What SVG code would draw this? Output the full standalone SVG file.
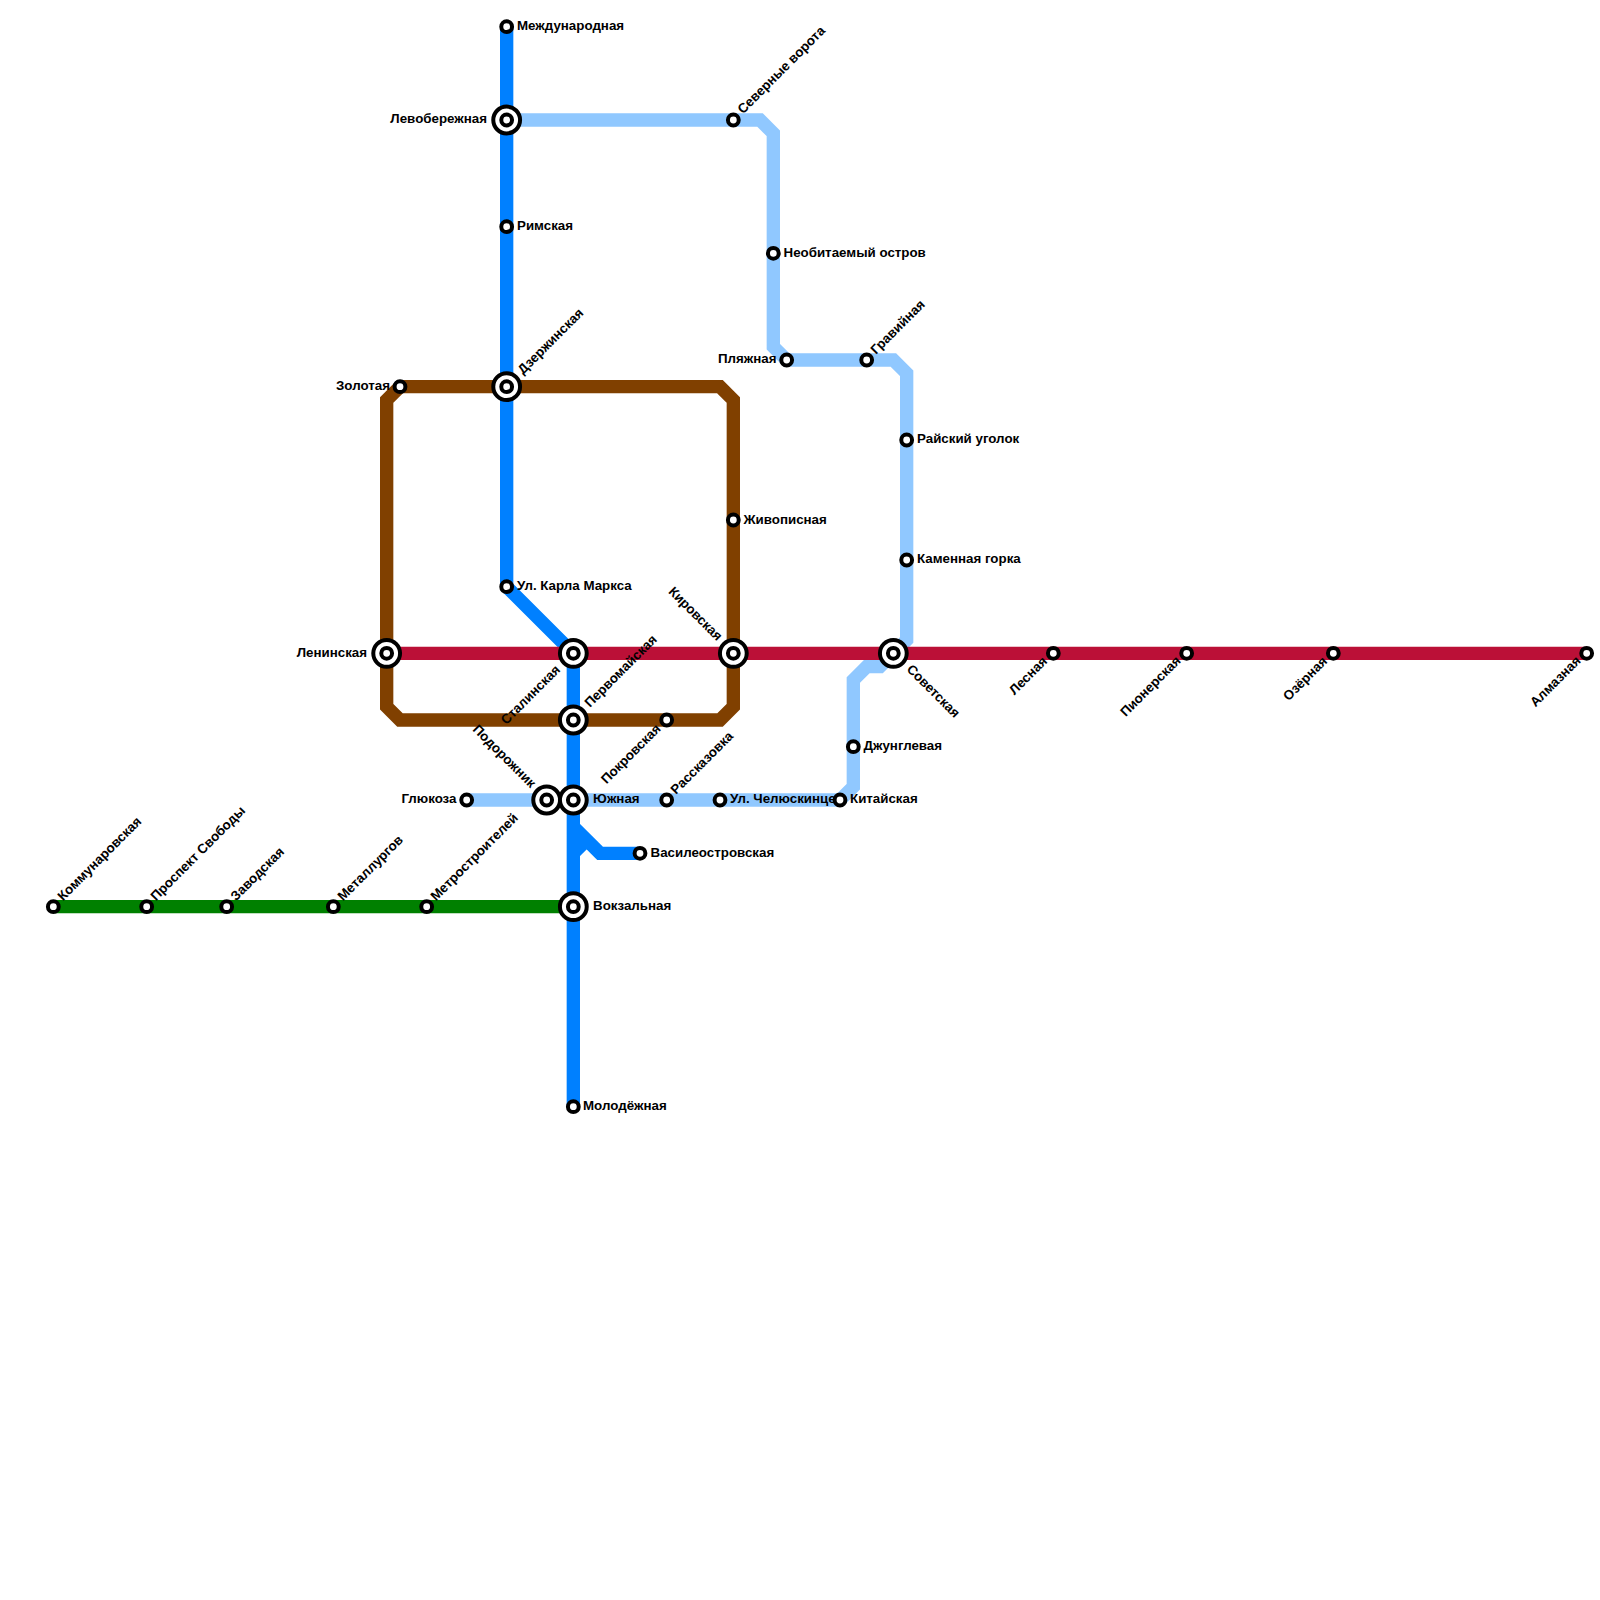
<svg xmlns="http://www.w3.org/2000/svg" width="1600" height="1600" viewBox="0 0 1600 1600">
<defs>
<style>
.l{fill:none;stroke-width:13.33;stroke-linejoin:miter;stroke-linecap:butt}
.s{fill:#fff;stroke:#000;stroke-width:4}
text{font-family:"Liberation Sans",Arial,sans-serif;font-size:13.33px;font-weight:bold;fill:#000}
.e{text-anchor:end}
</style>
<g id="st"><circle class="s" r="5.4"/></g>
<g id="tr"><circle class="s" r="13.4"/><circle class="s" r="5.4"/></g>
</defs>
<rect width="1600" height="1600" fill="#fff"/>
<g id="connectors">
<path class="l" stroke="#90c8ff" d="M466.67 800H840L853.33 786.67V680L866.67 666.67H880L906.67 640V373.33L893.33 360H786.67L773.33 346.67V133.33L760 120H506.67"/>
<path class="l" stroke="#008000" d="M53.33 906.67H573.33"/>
<path class="l" stroke="#0080ff" d="M506.67 26.67V586.67L573.33 653.33V1106.67M573.33 826.67L600 853.33H640M573.33 853.33L586.67 840"/>
<path class="l" stroke="#804000" d="M400 386.67H720L733.33 400V706.67L720 720H400L386.67 706.67V400Z"/>
<path class="l" stroke="#bb1037" d="M386.67 653.33H1586.67"/>
</g>
<g id="n1"><use href="#st" x="506.67" y="26.67"/><text x="517" y="30">Международная</text></g>
<g id="n2"><use href="#tr" x="506.67" y="120"/><text class="e" x="487" y="123">Левобережная</text></g>
<g id="n3"><use href="#st" x="506.67" y="226.67"/><text x="517" y="230">Римская</text></g>
<g id="n4"><use href="#tr" x="506.67" y="386.67"/><text transform="translate(523 375) rotate(-45)">Дзержинская</text></g>
<g id="n5"><use href="#st" x="506.67" y="586.67"/><text x="517" y="590">Ул. Карла Маркса</text></g>
<g id="n6"><use href="#tr" x="573.33" y="653.33"/><text class="e" transform="translate(561 670.5) rotate(-45)">Сталинская</text></g>
<g id="n7"><use href="#tr" x="573.33" y="720"/><text transform="translate(590 708) rotate(-45)">Первомайская</text></g>
<g id="n8"><use href="#tr" x="546.67" y="800"/><text class="e" transform="translate(530.5 788.5) rotate(45)">Подорожник</text></g>
<g id="n9"><use href="#tr" x="573.33" y="800"/><text x="593" y="803">Южная</text></g>
<g id="n10"><use href="#tr" x="573.33" y="906.67"/><text x="593" y="910">Вокзальная</text></g>
<g id="n11"><use href="#st" x="573.33" y="1106.67"/><text x="583" y="1110">Молодёжная</text></g>
<g id="n12"><use href="#st" x="640" y="853.33"/><text x="650.5" y="856.5">Василеостровская</text></g>
<g id="n13"><use href="#st" x="466.67" y="800"/><text class="e" x="456.5" y="803">Глюкоза</text></g>
<g id="n14"><use href="#st" x="666.67" y="720"/><text class="e" transform="translate(661.5 729.5) rotate(-45)">Покровская</text></g>
<g id="n15"><use href="#st" x="666.67" y="800"/><text transform="translate(676 795) rotate(-45)">Рассказовка</text></g>
<g id="n16"><use href="#st" x="720" y="800"/><text x="730" y="803">Ул. Челюскинцев</text></g>
<g id="n17"><use href="#st" x="840" y="800"/><text x="850" y="803">Китайская</text></g>
<g id="n18"><use href="#st" x="853.33" y="746.67"/><text x="863.5" y="750">Джунглевая</text></g>
<g id="n19"><use href="#tr" x="893.33" y="653.33"/><text transform="translate(906 670) rotate(45)">Советская</text></g>
<g id="n20"><use href="#tr" x="733.33" y="653.33"/><text class="e" transform="translate(717 641.5) rotate(45)">Кировская</text></g>
<g id="n21"><use href="#st" x="733.33" y="520"/><text x="743.5" y="523.5">Живописная</text></g>
<g id="n22"><use href="#tr" x="386.67" y="653.33"/><text class="e" x="367" y="656.5">Ленинская</text></g>
<g id="n23"><use href="#st" x="400" y="386.67"/><text class="e" x="390" y="390">Золотая</text></g>
<g id="n24"><use href="#st" x="733.33" y="120"/><text transform="translate(743 114.5) rotate(-45)">Северные ворота</text></g>
<g id="n25"><use href="#st" x="773.33" y="253.33"/><text x="783.5" y="256.5">Необитаемый остров</text></g>
<g id="n26"><use href="#st" x="786.67" y="360"/><text class="e" x="776.5" y="363">Пляжная</text></g>
<g id="n27"><use href="#st" x="866.67" y="360"/><text transform="translate(876 355) rotate(-45)">Гравийная</text></g>
<g id="n28"><use href="#st" x="906.67" y="440"/><text x="917" y="443">Райский уголок</text></g>
<g id="n29"><use href="#st" x="906.67" y="560"/><text x="917" y="563">Каменная горка</text></g>
<g id="n30"><use href="#st" x="1053.33" y="653.33"/><text class="e" transform="translate(1048 662) rotate(-45)">Лесная</text></g>
<g id="n31"><use href="#st" x="1186.67" y="653.33"/><text class="e" transform="translate(1181.5 661.5) rotate(-45)">Пионерская</text></g>
<g id="n32"><use href="#st" x="1333.33" y="653.33"/><text class="e" transform="translate(1328 662) rotate(-45)">Озёрная</text></g>
<g id="n33"><use href="#st" x="1586.67" y="653.33"/><text class="e" transform="translate(1581.5 661.5) rotate(-45)">Алмазная</text></g>
<g id="n34"><use href="#st" x="53.33" y="906.67"/><text transform="translate(63 901.5) rotate(-45)">Коммунаровская</text></g>
<g id="n35"><use href="#st" x="146.67" y="906.67"/><text transform="translate(156 901.5) rotate(-45)">Проспект Свободы</text></g>
<g id="n36"><use href="#st" x="226.67" y="906.67"/><text transform="translate(236 901.5) rotate(-45)">Заводская</text></g>
<g id="n37"><use href="#st" x="333.33" y="906.67"/><text transform="translate(343 901.5) rotate(-45)">Металлургов</text></g>
<g id="n38"><use href="#st" x="426.67" y="906.67"/><text transform="translate(436 901.5) rotate(-45)">Метростроителей</text></g>
</svg>
